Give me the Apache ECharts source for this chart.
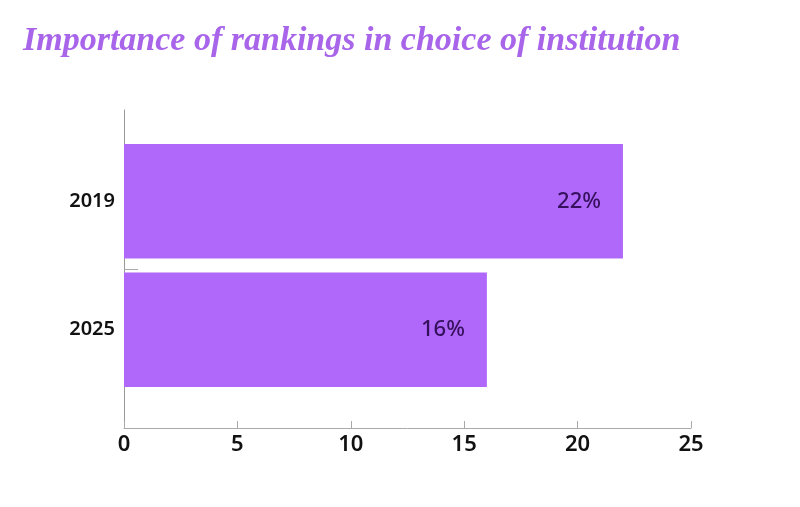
<!DOCTYPE html>
<html>
<head>
<meta charset="utf-8">
<script src="https://cdn.jsdelivr.net/npm/echarts@6/dist/echarts.min.js"></script>
<style>
  html, body { margin: 0; padding: 0; background: #fff; }
  #chart { width: 800px; height: 507px; }
</style>
</head>
<body>
<div id="chart"></div>
<script>
var years = ['2019', '2025'];
var shares = [22, 16];
var xTicks = [0, 5, 10, 15, 20, 25];

var barColor = '#b068fa';
var chart = echarts.init(document.getElementById('chart'));

var option = {
    animation: false,
    title: {
        text: 'Importance of rankings in choice of institution',
        left: 18,
        top: 19,
        textStyle: {
            fontFamily: 'Liberation Serif',
            fontStyle: 'italic',
            fontWeight: 'bold',
            fontSize: 34,
            color: '#a865ea'
        }
    },
    grid: [
        // bars
        { left: 124, right: 109, top: 137, height: 257 },
        // axis frame
        { left: 124, right: 109, top: 110, bottom: 79 }
    ],
    xAxis: [
        { gridIndex: 0, type: 'value', min: 0, max: 25, show: false },
        {
            gridIndex: 1,
            type: 'value',
            min: xTicks[0],
            max: xTicks[xTicks.length - 1],
            interval: 5,
            axisLine: { show: true, lineStyle: { color: '#aaa', width: 1 } },
            axisTick: { show: true, inside: true, length: 7, lineStyle: { color: '#aaa' } },
            axisLabel: {
                margin: 6,
                fontFamily: 'Noto Sans',
                fontWeight: 600,
                fontSize: 22,
                color: '#111'
            },
            splitLine: { show: false }
        }
    ],
    yAxis: [
        {
            gridIndex: 0,
            type: 'category',
            inverse: true,
            data: years,
            axisLine: { show: false },
            axisTick: { show: false },
            axisLabel: {
                margin: 9,
                fontFamily: 'Noto Sans',
                fontWeight: 600,
                fontSize: 20,
                color: '#111'
            }
        },
        {
            gridIndex: 1,
            type: 'value',
            min: 0,
            max: 2,
            interval: 1,
            axisLine: { show: true, lineStyle: { color: '#999', width: 1 } },
            axisTick: { show: true, inside: true, length: 14, customValues: [1], lineStyle: { color: '#aaa' } },
            axisLabel: { show: false },
            splitLine: { show: false }
        }
    ],
    series: [
        {
            type: 'bar',
            xAxisIndex: 0,
            yAxisIndex: 0,
            data: shares,
            barCategoryGap: '11%',
            itemStyle: { color: barColor },
            label: {
                show: true,
                position: 'insideRight',
                distance: 22,
                formatter: '{c}%',
                fontFamily: 'Noto Sans',
                fontWeight: 500,
                fontSize: 22,
                color: '#35105c'
            }
        }
    ]
};

chart.setOption(option);
</script>
</body>
</html>
